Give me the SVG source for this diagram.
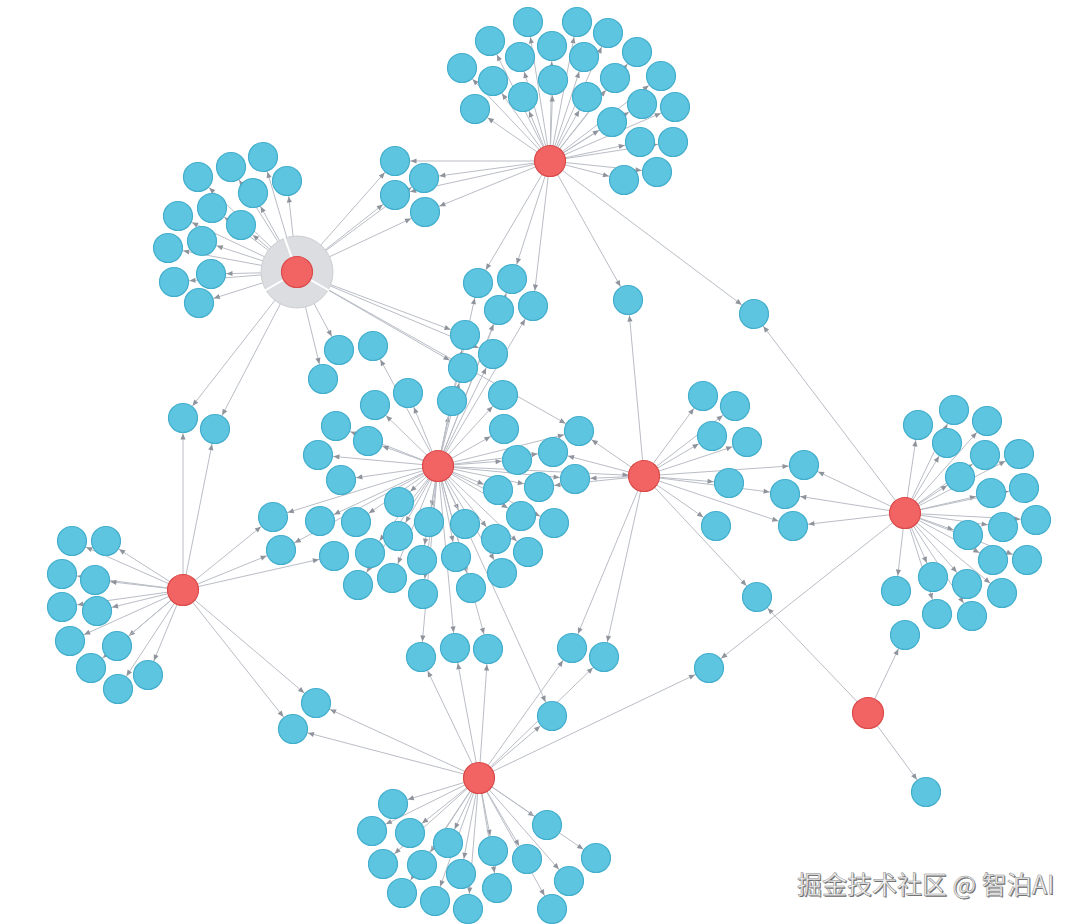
<svg xmlns="http://www.w3.org/2000/svg" width="1080" height="924" viewBox="0 0 1080 924">
<style>
.e line{stroke:#b9bdc5;stroke-width:1;fill:none}
.b{fill:#5ec5e0;stroke:#42aecc;stroke-width:1.2}
.r{fill:#f26464;stroke:#db4a4a;stroke-width:1.2}
.wm{font-family:"Noto Sans CJK SC","Noto Sans",sans-serif;font-size:25px}
</style>
<defs>
<marker id="arr" viewBox="-24 -4 25 8" refX="0" refY="0" markerWidth="25" markerHeight="8" markerUnits="userSpaceOnUse" orient="auto"><path d="M-21.5,-2.6 L-15.5,0 L-21.5,2.6 z" fill="#8e939c"/></marker>
</defs>
<rect width="1080" height="924" fill="#ffffff"/>
<g id="connectors" class="e" marker-end="url(#arr)">
<g id="e-h1">
<line x1="297" y1="272" x2="263" y2="157" marker-end="url(#arr)"/><line x1="297" y1="272" x2="231" y2="167" marker-end="url(#arr)"/><line x1="297" y1="272" x2="198" y2="177" marker-end="url(#arr)"/><line x1="297" y1="272" x2="287" y2="181" marker-end="url(#arr)"/><line x1="297" y1="272" x2="253" y2="193" marker-end="url(#arr)"/><line x1="297" y1="272" x2="212" y2="208" marker-end="url(#arr)"/><line x1="297" y1="272" x2="178" y2="216" marker-end="url(#arr)"/><line x1="297" y1="272" x2="241" y2="225" marker-end="url(#arr)"/><line x1="297" y1="272" x2="202" y2="241" marker-end="url(#arr)"/><line x1="297" y1="272" x2="168" y2="248" marker-end="url(#arr)"/><line x1="297" y1="272" x2="211" y2="274" marker-end="url(#arr)"/><line x1="297" y1="272" x2="174" y2="282" marker-end="url(#arr)"/><line x1="297" y1="272" x2="199" y2="303" marker-end="url(#arr)"/>
<line x1="297" y1="272" x2="395" y2="161" marker-end="url(#arr)"/><line x1="297" y1="272" x2="424" y2="178" marker-end="url(#arr)"/><line x1="297" y1="272" x2="395" y2="195" marker-end="url(#arr)"/><line x1="297" y1="272" x2="425" y2="212" marker-end="url(#arr)"/>
<line x1="297" y1="272" x2="183" y2="418" marker-end="url(#arr)"/><line x1="297" y1="272" x2="215" y2="429" marker-end="url(#arr)"/>
<line x1="297" y1="272" x2="339" y2="350" marker-end="url(#arr)"/><line x1="297" y1="272" x2="323" y2="379" marker-end="url(#arr)"/>
<line x1="297" y1="272" x2="465" y2="335" marker-end="url(#arr)"/><line x1="297" y1="272" x2="463" y2="368" marker-end="url(#arr)"/><line x1="297" y1="272" x2="493" y2="354" marker-end="url(#arr)"/><line x1="297" y1="272" x2="579" y2="431" marker-end="url(#arr)"/>
</g>
<g id="e-h2">
<line x1="550" y1="161" x2="528" y2="22" marker-end="url(#arr)"/><line x1="550" y1="161" x2="577" y2="22" marker-end="url(#arr)"/><line x1="550" y1="161" x2="490" y2="41" marker-end="url(#arr)"/><line x1="550" y1="161" x2="608" y2="33" marker-end="url(#arr)"/><line x1="550" y1="161" x2="552" y2="46" marker-end="url(#arr)"/><line x1="550" y1="161" x2="520" y2="57" marker-end="url(#arr)"/><line x1="550" y1="161" x2="584" y2="57" marker-end="url(#arr)"/><line x1="550" y1="161" x2="637" y2="52" marker-end="url(#arr)"/><line x1="550" y1="161" x2="462" y2="68" marker-end="url(#arr)"/><line x1="550" y1="161" x2="493" y2="81" marker-end="url(#arr)"/><line x1="550" y1="161" x2="553" y2="80" marker-end="url(#arr)"/><line x1="550" y1="161" x2="615" y2="78" marker-end="url(#arr)"/><line x1="550" y1="161" x2="661" y2="76" marker-end="url(#arr)"/><line x1="550" y1="161" x2="523" y2="97" marker-end="url(#arr)"/><line x1="550" y1="161" x2="587" y2="97" marker-end="url(#arr)"/><line x1="550" y1="161" x2="642" y2="104" marker-end="url(#arr)"/><line x1="550" y1="161" x2="675" y2="107" marker-end="url(#arr)"/><line x1="550" y1="161" x2="475" y2="109" marker-end="url(#arr)"/><line x1="550" y1="161" x2="612" y2="122" marker-end="url(#arr)"/><line x1="550" y1="161" x2="640" y2="142" marker-end="url(#arr)"/><line x1="550" y1="161" x2="673" y2="142" marker-end="url(#arr)"/><line x1="550" y1="161" x2="657" y2="172" marker-end="url(#arr)"/><line x1="550" y1="161" x2="624" y2="180" marker-end="url(#arr)"/>
<line x1="550" y1="161" x2="395" y2="161" marker-end="url(#arr)"/><line x1="550" y1="161" x2="424" y2="178" marker-end="url(#arr)"/><line x1="550" y1="161" x2="395" y2="195" marker-end="url(#arr)"/><line x1="550" y1="161" x2="425" y2="212" marker-end="url(#arr)"/>
<line x1="550" y1="161" x2="478" y2="283" marker-end="url(#arr)"/><line x1="550" y1="161" x2="512" y2="279" marker-end="url(#arr)"/><line x1="550" y1="161" x2="533" y2="306" marker-end="url(#arr)"/>
<line x1="550" y1="161" x2="628" y2="300" marker-end="url(#arr)"/><line x1="550" y1="161" x2="754" y2="314" marker-end="url(#arr)"/>
</g>
<g id="e-h3">
<line x1="438" y1="466" x2="373" y2="346" marker-end="url(#arr)"/><line x1="438" y1="466" x2="375" y2="405" marker-end="url(#arr)"/><line x1="438" y1="466" x2="408" y2="393" marker-end="url(#arr)"/><line x1="438" y1="466" x2="452" y2="401" marker-end="url(#arr)"/><line x1="438" y1="466" x2="465" y2="335" marker-end="url(#arr)"/><line x1="438" y1="466" x2="463" y2="368" marker-end="url(#arr)"/><line x1="438" y1="466" x2="493" y2="354" marker-end="url(#arr)"/><line x1="438" y1="466" x2="503" y2="395" marker-end="url(#arr)"/><line x1="438" y1="466" x2="504" y2="429" marker-end="url(#arr)"/><line x1="438" y1="466" x2="517" y2="460" marker-end="url(#arr)"/><line x1="438" y1="466" x2="553" y2="452" marker-end="url(#arr)"/><line x1="438" y1="466" x2="579" y2="431" marker-end="url(#arr)"/><line x1="438" y1="466" x2="539" y2="487" marker-end="url(#arr)"/><line x1="438" y1="466" x2="575" y2="479" marker-end="url(#arr)"/><line x1="438" y1="466" x2="498" y2="490" marker-end="url(#arr)"/><line x1="438" y1="466" x2="521" y2="516" marker-end="url(#arr)"/><line x1="438" y1="466" x2="554" y2="523" marker-end="url(#arr)"/><line x1="438" y1="466" x2="399" y2="502" marker-end="url(#arr)"/><line x1="438" y1="466" x2="429" y2="522" marker-end="url(#arr)"/><line x1="438" y1="466" x2="465" y2="524" marker-end="url(#arr)"/><line x1="438" y1="466" x2="356" y2="522" marker-end="url(#arr)"/><line x1="438" y1="466" x2="320" y2="521" marker-end="url(#arr)"/><line x1="438" y1="466" x2="336" y2="426" marker-end="url(#arr)"/><line x1="438" y1="466" x2="318" y2="455" marker-end="url(#arr)"/><line x1="438" y1="466" x2="341" y2="480" marker-end="url(#arr)"/><line x1="438" y1="466" x2="368" y2="441" marker-end="url(#arr)"/><line x1="438" y1="466" x2="398" y2="536" marker-end="url(#arr)"/><line x1="438" y1="466" x2="370" y2="553" marker-end="url(#arr)"/><line x1="438" y1="466" x2="422" y2="560" marker-end="url(#arr)"/><line x1="438" y1="466" x2="456" y2="557" marker-end="url(#arr)"/><line x1="438" y1="466" x2="496" y2="539" marker-end="url(#arr)"/><line x1="438" y1="466" x2="528" y2="552" marker-end="url(#arr)"/><line x1="438" y1="466" x2="392" y2="578" marker-end="url(#arr)"/><line x1="438" y1="466" x2="358" y2="585" marker-end="url(#arr)"/><line x1="438" y1="466" x2="423" y2="594" marker-end="url(#arr)"/><line x1="438" y1="466" x2="471" y2="588" marker-end="url(#arr)"/><line x1="438" y1="466" x2="502" y2="573" marker-end="url(#arr)"/><line x1="438" y1="466" x2="273" y2="517" marker-end="url(#arr)"/><line x1="438" y1="466" x2="281" y2="550" marker-end="url(#arr)"/>
<line x1="438" y1="466" x2="478" y2="283" marker-end="url(#arr)"/><line x1="438" y1="466" x2="512" y2="279" marker-end="url(#arr)"/><line x1="438" y1="466" x2="499" y2="310" marker-end="url(#arr)"/><line x1="438" y1="466" x2="533" y2="306" marker-end="url(#arr)"/>
<line x1="438" y1="466" x2="421" y2="657" marker-end="url(#arr)"/><line x1="438" y1="466" x2="455" y2="648" marker-end="url(#arr)"/><line x1="438" y1="466" x2="488" y2="649" marker-end="url(#arr)"/><line x1="438" y1="466" x2="552" y2="716" marker-end="url(#arr)"/>
<line x1="438" y1="466" x2="644" y2="476" marker-end="url(#arr)"/>
</g>
<g id="e-h4">
<line x1="644" y1="476" x2="579" y2="431" marker-end="url(#arr)"/><line x1="644" y1="476" x2="553" y2="452" marker-end="url(#arr)"/><line x1="644" y1="476" x2="575" y2="479" marker-end="url(#arr)"/><line x1="644" y1="476" x2="539" y2="487" marker-end="url(#arr)"/>
<line x1="644" y1="476" x2="703" y2="396" marker-end="url(#arr)"/><line x1="644" y1="476" x2="735" y2="406" marker-end="url(#arr)"/><line x1="644" y1="476" x2="712" y2="436" marker-end="url(#arr)"/><line x1="644" y1="476" x2="747" y2="442" marker-end="url(#arr)"/><line x1="644" y1="476" x2="729" y2="483" marker-end="url(#arr)"/><line x1="644" y1="476" x2="716" y2="526" marker-end="url(#arr)"/>
<line x1="644" y1="476" x2="804" y2="465" marker-end="url(#arr)"/><line x1="644" y1="476" x2="785" y2="494" marker-end="url(#arr)"/><line x1="644" y1="476" x2="793" y2="526" marker-end="url(#arr)"/>
<line x1="644" y1="476" x2="628" y2="300" marker-end="url(#arr)"/><line x1="644" y1="476" x2="572" y2="648" marker-end="url(#arr)"/><line x1="644" y1="476" x2="604" y2="657" marker-end="url(#arr)"/><line x1="644" y1="476" x2="757" y2="597" marker-end="url(#arr)"/>
</g>
<g id="e-h5">
<line x1="905" y1="513" x2="918" y2="425" marker-end="url(#arr)"/><line x1="905" y1="513" x2="954" y2="410" marker-end="url(#arr)"/><line x1="905" y1="513" x2="987" y2="421" marker-end="url(#arr)"/><line x1="905" y1="513" x2="947" y2="443" marker-end="url(#arr)"/><line x1="905" y1="513" x2="985" y2="455" marker-end="url(#arr)"/><line x1="905" y1="513" x2="1019" y2="454" marker-end="url(#arr)"/><line x1="905" y1="513" x2="960" y2="477" marker-end="url(#arr)"/><line x1="905" y1="513" x2="991" y2="493" marker-end="url(#arr)"/><line x1="905" y1="513" x2="1024" y2="488" marker-end="url(#arr)"/><line x1="905" y1="513" x2="1036" y2="520" marker-end="url(#arr)"/><line x1="905" y1="513" x2="1003" y2="527" marker-end="url(#arr)"/><line x1="905" y1="513" x2="968" y2="535" marker-end="url(#arr)"/><line x1="905" y1="513" x2="993" y2="560" marker-end="url(#arr)"/><line x1="905" y1="513" x2="1027" y2="560" marker-end="url(#arr)"/><line x1="905" y1="513" x2="933" y2="577" marker-end="url(#arr)"/><line x1="905" y1="513" x2="967" y2="584" marker-end="url(#arr)"/><line x1="905" y1="513" x2="1002" y2="593" marker-end="url(#arr)"/><line x1="905" y1="513" x2="896" y2="591" marker-end="url(#arr)"/><line x1="905" y1="513" x2="937" y2="614" marker-end="url(#arr)"/><line x1="905" y1="513" x2="972" y2="616" marker-end="url(#arr)"/>
<line x1="905" y1="513" x2="754" y2="314" marker-end="url(#arr)"/><line x1="905" y1="513" x2="804" y2="465" marker-end="url(#arr)"/><line x1="905" y1="513" x2="785" y2="494" marker-end="url(#arr)"/><line x1="905" y1="513" x2="793" y2="526" marker-end="url(#arr)"/><line x1="905" y1="513" x2="709" y2="668" marker-end="url(#arr)"/>
</g>
<g id="e-h6">
<line x1="183" y1="590" x2="72" y2="541" marker-end="url(#arr)"/><line x1="183" y1="590" x2="106" y2="541" marker-end="url(#arr)"/><line x1="183" y1="590" x2="62" y2="574" marker-end="url(#arr)"/><line x1="183" y1="590" x2="95" y2="580" marker-end="url(#arr)"/><line x1="183" y1="590" x2="62" y2="607" marker-end="url(#arr)"/><line x1="183" y1="590" x2="97" y2="611" marker-end="url(#arr)"/><line x1="183" y1="590" x2="70" y2="641" marker-end="url(#arr)"/><line x1="183" y1="590" x2="117" y2="646" marker-end="url(#arr)"/><line x1="183" y1="590" x2="91" y2="668" marker-end="url(#arr)"/><line x1="183" y1="590" x2="148" y2="675" marker-end="url(#arr)"/><line x1="183" y1="590" x2="118" y2="689" marker-end="url(#arr)"/>
<line x1="183" y1="590" x2="183" y2="418" marker-end="url(#arr)"/><line x1="183" y1="590" x2="215" y2="429" marker-end="url(#arr)"/><line x1="183" y1="590" x2="273" y2="517" marker-end="url(#arr)"/><line x1="183" y1="590" x2="281" y2="550" marker-end="url(#arr)"/><line x1="183" y1="590" x2="334" y2="556" marker-end="url(#arr)"/><line x1="183" y1="590" x2="316" y2="703" marker-end="url(#arr)"/><line x1="183" y1="590" x2="293" y2="729" marker-end="url(#arr)"/>
</g>
<g id="e-h7">
<line x1="479" y1="778" x2="393" y2="804" marker-end="url(#arr)"/><line x1="479" y1="778" x2="372" y2="831" marker-end="url(#arr)"/><line x1="479" y1="778" x2="410" y2="833" marker-end="url(#arr)"/><line x1="479" y1="778" x2="448" y2="843" marker-end="url(#arr)"/><line x1="479" y1="778" x2="547" y2="825" marker-end="url(#arr)"/><line x1="479" y1="778" x2="493" y2="851" marker-end="url(#arr)"/><line x1="479" y1="778" x2="527" y2="859" marker-end="url(#arr)"/><line x1="479" y1="778" x2="596" y2="858" marker-end="url(#arr)"/><line x1="479" y1="778" x2="383" y2="864" marker-end="url(#arr)"/><line x1="479" y1="778" x2="422" y2="865" marker-end="url(#arr)"/><line x1="479" y1="778" x2="461" y2="874" marker-end="url(#arr)"/><line x1="479" y1="778" x2="569" y2="881" marker-end="url(#arr)"/><line x1="479" y1="778" x2="497" y2="888" marker-end="url(#arr)"/><line x1="479" y1="778" x2="402" y2="893" marker-end="url(#arr)"/><line x1="479" y1="778" x2="435" y2="901" marker-end="url(#arr)"/><line x1="479" y1="778" x2="468" y2="909" marker-end="url(#arr)"/><line x1="479" y1="778" x2="552" y2="909" marker-end="url(#arr)"/>
<line x1="479" y1="778" x2="421" y2="657" marker-end="url(#arr)"/><line x1="479" y1="778" x2="455" y2="648" marker-end="url(#arr)"/><line x1="479" y1="778" x2="488" y2="649" marker-end="url(#arr)"/><line x1="479" y1="778" x2="572" y2="648" marker-end="url(#arr)"/><line x1="479" y1="778" x2="604" y2="657" marker-end="url(#arr)"/><line x1="479" y1="778" x2="552" y2="716" marker-end="url(#arr)"/><line x1="479" y1="778" x2="709" y2="668" marker-end="url(#arr)"/><line x1="479" y1="778" x2="316" y2="703" marker-end="url(#arr)"/><line x1="479" y1="778" x2="293" y2="729" marker-end="url(#arr)"/>
</g>
<g id="e-h8">
<line x1="868" y1="713" x2="757" y2="597" marker-end="url(#arr)"/><line x1="868" y1="713" x2="905" y2="635" marker-end="url(#arr)"/><line x1="868" y1="713" x2="926" y2="792" marker-end="url(#arr)"/>
</g>
</g>
<g id="nodes">
<g id="n-h1c"><circle class="b" cx="263" cy="157" r="14.5"/><circle class="b" cx="231" cy="167" r="14.5"/><circle class="b" cx="198" cy="177" r="14.5"/><circle class="b" cx="287" cy="181" r="14.5"/><circle class="b" cx="253" cy="193" r="14.5"/><circle class="b" cx="212" cy="208" r="14.5"/><circle class="b" cx="178" cy="216" r="14.5"/><circle class="b" cx="241" cy="225" r="14.5"/><circle class="b" cx="202" cy="241" r="14.5"/><circle class="b" cx="168" cy="248" r="14.5"/><circle class="b" cx="211" cy="274" r="14.5"/><circle class="b" cx="174" cy="282" r="14.5"/><circle class="b" cx="199" cy="303" r="14.5"/></g>
<g id="n-b12"><circle class="b" cx="395" cy="161" r="14.5"/><circle class="b" cx="424" cy="178" r="14.5"/><circle class="b" cx="395" cy="195" r="14.5"/><circle class="b" cx="425" cy="212" r="14.5"/></g>
<g id="n-h2c"><circle class="b" cx="528" cy="22" r="14.5"/><circle class="b" cx="577" cy="22" r="14.5"/><circle class="b" cx="490" cy="41" r="14.5"/><circle class="b" cx="608" cy="33" r="14.5"/><circle class="b" cx="552" cy="46" r="14.5"/><circle class="b" cx="520" cy="57" r="14.5"/><circle class="b" cx="584" cy="57" r="14.5"/><circle class="b" cx="637" cy="52" r="14.5"/><circle class="b" cx="462" cy="68" r="14.5"/><circle class="b" cx="493" cy="81" r="14.5"/><circle class="b" cx="553" cy="80" r="14.5"/><circle class="b" cx="615" cy="78" r="14.5"/><circle class="b" cx="661" cy="76" r="14.5"/><circle class="b" cx="523" cy="97" r="14.5"/><circle class="b" cx="587" cy="97" r="14.5"/><circle class="b" cx="642" cy="104" r="14.5"/><circle class="b" cx="675" cy="107" r="14.5"/><circle class="b" cx="475" cy="109" r="14.5"/><circle class="b" cx="612" cy="122" r="14.5"/><circle class="b" cx="640" cy="142" r="14.5"/><circle class="b" cx="673" cy="142" r="14.5"/><circle class="b" cx="657" cy="172" r="14.5"/><circle class="b" cx="624" cy="180" r="14.5"/></g>
<g id="n-b23"><circle class="b" cx="478" cy="283" r="14.5"/><circle class="b" cx="512" cy="279" r="14.5"/><circle class="b" cx="499" cy="310" r="14.5"/><circle class="b" cx="533" cy="306" r="14.5"/></g>
<g id="n-b24"><circle class="b" cx="628" cy="300" r="14.5"/></g>
<g id="n-b25"><circle class="b" cx="754" cy="314" r="14.5"/></g>
<g id="n-b16"><circle class="b" cx="183" cy="418" r="14.5"/><circle class="b" cx="215" cy="429" r="14.5"/></g>
<g id="n-b13"><circle class="b" cx="339" cy="350" r="14.5"/><circle class="b" cx="323" cy="379" r="14.5"/></g>
<g id="n-h3c"><circle class="b" cx="373" cy="346" r="14.5"/><circle class="b" cx="375" cy="405" r="14.5"/><circle class="b" cx="408" cy="393" r="14.5"/><circle class="b" cx="452" cy="401" r="14.5"/><circle class="b" cx="465" cy="335" r="14.5"/><circle class="b" cx="463" cy="368" r="14.5"/><circle class="b" cx="493" cy="354" r="14.5"/><circle class="b" cx="503" cy="395" r="14.5"/><circle class="b" cx="504" cy="429" r="14.5"/><circle class="b" cx="517" cy="460" r="14.5"/><circle class="b" cx="498" cy="490" r="14.5"/><circle class="b" cx="521" cy="516" r="14.5"/><circle class="b" cx="554" cy="523" r="14.5"/><circle class="b" cx="399" cy="502" r="14.5"/><circle class="b" cx="429" cy="522" r="14.5"/><circle class="b" cx="465" cy="524" r="14.5"/><circle class="b" cx="356" cy="522" r="14.5"/><circle class="b" cx="320" cy="521" r="14.5"/><circle class="b" cx="336" cy="426" r="14.5"/><circle class="b" cx="318" cy="455" r="14.5"/><circle class="b" cx="341" cy="480" r="14.5"/><circle class="b" cx="368" cy="441" r="14.5"/><circle class="b" cx="398" cy="536" r="14.5"/><circle class="b" cx="370" cy="553" r="14.5"/><circle class="b" cx="422" cy="560" r="14.5"/><circle class="b" cx="456" cy="557" r="14.5"/><circle class="b" cx="496" cy="539" r="14.5"/><circle class="b" cx="528" cy="552" r="14.5"/><circle class="b" cx="392" cy="578" r="14.5"/><circle class="b" cx="358" cy="585" r="14.5"/><circle class="b" cx="423" cy="594" r="14.5"/><circle class="b" cx="471" cy="588" r="14.5"/><circle class="b" cx="502" cy="573" r="14.5"/></g>
<g id="n-b34"><circle class="b" cx="579" cy="431" r="14.5"/><circle class="b" cx="553" cy="452" r="14.5"/><circle class="b" cx="575" cy="479" r="14.5"/><circle class="b" cx="539" cy="487" r="14.5"/></g>
<g id="n-b36"><circle class="b" cx="273" cy="517" r="14.5"/><circle class="b" cx="281" cy="550" r="14.5"/><circle class="b" cx="334" cy="556" r="14.5"/></g>
<g id="n-b37"><circle class="b" cx="421" cy="657" r="14.5"/><circle class="b" cx="455" cy="648" r="14.5"/><circle class="b" cx="488" cy="649" r="14.5"/><circle class="b" cx="552" cy="716" r="14.5"/></g>
<g id="n-h4c"><circle class="b" cx="703" cy="396" r="14.5"/><circle class="b" cx="735" cy="406" r="14.5"/><circle class="b" cx="712" cy="436" r="14.5"/><circle class="b" cx="747" cy="442" r="14.5"/><circle class="b" cx="729" cy="483" r="14.5"/><circle class="b" cx="716" cy="526" r="14.5"/></g>
<g id="n-b45"><circle class="b" cx="804" cy="465" r="14.5"/><circle class="b" cx="785" cy="494" r="14.5"/><circle class="b" cx="793" cy="526" r="14.5"/></g>
<g id="n-b47"><circle class="b" cx="572" cy="648" r="14.5"/><circle class="b" cx="604" cy="657" r="14.5"/></g>
<g id="n-b48"><circle class="b" cx="757" cy="597" r="14.5"/></g>
<g id="n-b57"><circle class="b" cx="709" cy="668" r="14.5"/></g>
<g id="n-h5c"><circle class="b" cx="918" cy="425" r="14.5"/><circle class="b" cx="954" cy="410" r="14.5"/><circle class="b" cx="987" cy="421" r="14.5"/><circle class="b" cx="947" cy="443" r="14.5"/><circle class="b" cx="985" cy="455" r="14.5"/><circle class="b" cx="1019" cy="454" r="14.5"/><circle class="b" cx="960" cy="477" r="14.5"/><circle class="b" cx="991" cy="493" r="14.5"/><circle class="b" cx="1024" cy="488" r="14.5"/><circle class="b" cx="1036" cy="520" r="14.5"/><circle class="b" cx="1003" cy="527" r="14.5"/><circle class="b" cx="968" cy="535" r="14.5"/><circle class="b" cx="993" cy="560" r="14.5"/><circle class="b" cx="1027" cy="560" r="14.5"/><circle class="b" cx="933" cy="577" r="14.5"/><circle class="b" cx="967" cy="584" r="14.5"/><circle class="b" cx="1002" cy="593" r="14.5"/><circle class="b" cx="896" cy="591" r="14.5"/><circle class="b" cx="937" cy="614" r="14.5"/><circle class="b" cx="972" cy="616" r="14.5"/></g>
<g id="n-b58"><circle class="b" cx="905" cy="635" r="14.5"/></g>
<g id="n-h8c"><circle class="b" cx="926" cy="792" r="14.5"/></g>
<g id="n-h6c"><circle class="b" cx="72" cy="541" r="14.5"/><circle class="b" cx="106" cy="541" r="14.5"/><circle class="b" cx="62" cy="574" r="14.5"/><circle class="b" cx="95" cy="580" r="14.5"/><circle class="b" cx="62" cy="607" r="14.5"/><circle class="b" cx="97" cy="611" r="14.5"/><circle class="b" cx="70" cy="641" r="14.5"/><circle class="b" cx="117" cy="646" r="14.5"/><circle class="b" cx="91" cy="668" r="14.5"/><circle class="b" cx="148" cy="675" r="14.5"/><circle class="b" cx="118" cy="689" r="14.5"/></g>
<g id="n-b67"><circle class="b" cx="316" cy="703" r="14.5"/><circle class="b" cx="293" cy="729" r="14.5"/></g>
<g id="n-h7c"><circle class="b" cx="393" cy="804" r="14.5"/><circle class="b" cx="372" cy="831" r="14.5"/><circle class="b" cx="410" cy="833" r="14.5"/><circle class="b" cx="448" cy="843" r="14.5"/><circle class="b" cx="547" cy="825" r="14.5"/><circle class="b" cx="493" cy="851" r="14.5"/><circle class="b" cx="527" cy="859" r="14.5"/><circle class="b" cx="596" cy="858" r="14.5"/><circle class="b" cx="383" cy="864" r="14.5"/><circle class="b" cx="422" cy="865" r="14.5"/><circle class="b" cx="461" cy="874" r="14.5"/><circle class="b" cx="569" cy="881" r="14.5"/><circle class="b" cx="497" cy="888" r="14.5"/><circle class="b" cx="402" cy="893" r="14.5"/><circle class="b" cx="435" cy="901" r="14.5"/><circle class="b" cx="468" cy="909" r="14.5"/><circle class="b" cx="552" cy="909" r="14.5"/></g>
<g id="hub1"><circle cx="297" cy="272" r="36" fill="#dcdde1" stroke="#cdcfd3" stroke-width="1"/><line x1="291.5" y1="257" x2="284.3" y2="237.2" stroke="#fff" stroke-width="2"/><line x1="283.1" y1="280" x2="265" y2="290.5" stroke="#fff" stroke-width="2"/><line x1="310.9" y1="280" x2="329" y2="290.5" stroke="#fff" stroke-width="2"/><circle class="r" cx="297" cy="272" r="15.5"/></g>
<g id="hub2"><circle class="r" cx="550" cy="161" r="15.5"/></g>
<g id="hub3"><circle class="r" cx="438" cy="466" r="15.5"/></g>
<g id="hub4"><circle class="r" cx="644" cy="476" r="15.5"/></g>
<g id="hub5"><circle class="r" cx="905" cy="513" r="15.5"/></g>
<g id="hub6"><circle class="r" cx="183" cy="590" r="15.5"/></g>
<g id="hub7"><circle class="r" cx="479" cy="778" r="15.5"/></g>
<g id="hub8"><circle class="r" cx="868" cy="713" r="15.5"/></g>
</g>
<g id="watermark">
<text class="wm" x="798" y="895" fill="#6a6a6a">掘金技术社区 @ 智泊AI</text>
<text class="wm" x="797" y="894" fill="#f3f3f3" stroke="#8a8a8a" stroke-width="0.5">掘金技术社区 @ 智泊AI</text>
</g>
</svg>
